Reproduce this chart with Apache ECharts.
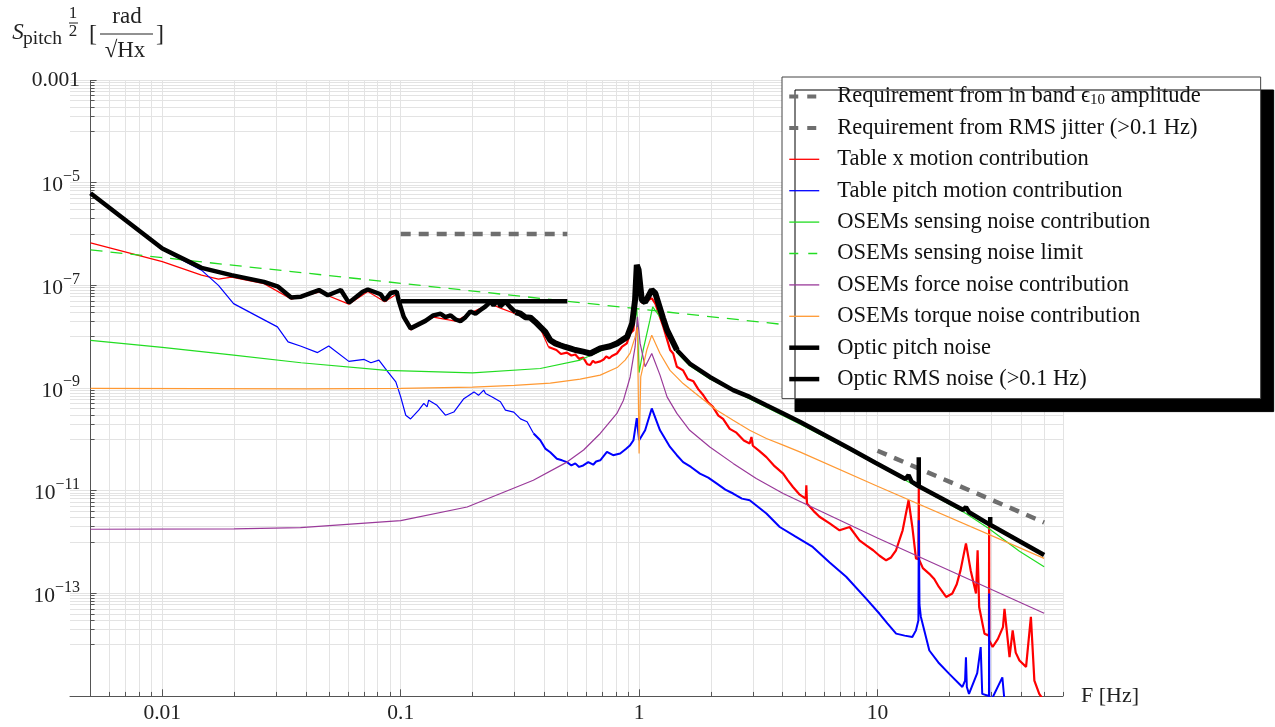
<!DOCTYPE html>
<html>
<head>
<meta charset="utf-8">
<title>Optic pitch noise</title>
<script src="https://cdn.jsdelivr.net/npm/echarts@6/dist/echarts.min.js"></script>
<style>
    html, body { margin: 0; padding: 0; background: #fff; }
    #main { width: 1275px; height: 727px; }
</style>
</head>
<body>
<div id="main"></div>
<script>
// frequency [Hz], amplitude [rad/sqrt(Hz)]
const reqBand = [[10, 6.0e-11], [50, 2.4e-12]];
const reqRms = [[0.1, 1.0e-6], [0.5, 1.0e-6]];
const rmsNoise = [[0.1, 4.9e-8], [0.5, 4.9e-8]];
const senseLimit = [[0.005, 4.9e-7], [50, 4.9e-9]];

const tableX = [
    [0.005, 6.7e-7], [0.01, 2.9e-7], [0.0146, 1.58e-7], [0.0172, 1.32e-7], [0.0195, 1.45e-7],
    [0.0267, 1.08e-7], [0.0347, 5.4e-8], [0.0454, 7.4e-8], [0.0606, 4.3e-8], [0.0728, 7.6e-8],
    [0.0857, 4.8e-8], [0.0962, 6.8e-8], [0.103, 2.2e-8], [0.110, 1.35e-8], [0.137, 2.4e-8],
    [0.170, 2.0e-8], [0.196, 2.9e-8], [0.238, 4.4e-8], [0.262, 3.6e-8], [0.303, 2.8e-8],
    [0.35, 2.2e-8], [0.385, 1.45e-8], [0.417, 6.3e-9], [0.45, 5.5e-9], [0.47, 4.6e-9],
    [0.498, 4.9e-9], [0.52, 4.3e-9], [0.54, 4.5e-9], [0.56, 3.7e-9], [0.583, 3.9e-9],
    [0.606, 2.9e-9], [0.624, 2.8e-9], [0.64, 3.4e-9], [0.654, 3.1e-9], [0.687, 3.3e-9],
    [0.71, 3.6e-9], [0.728, 4.1e-9], [0.75, 3.8e-9], [0.769, 4.2e-9], [0.807, 4.7e-9],
    [0.846, 6.3e-9], [0.888, 7.4e-9], [0.917, 1.15e-8], [0.947, 1.34e-8], [0.978, 1.4e-7],
    [1.03, 4.5e-8], [1.13, 5.6e-8], [1.17, 4.4e-8], [1.264, 1.55e-8], [1.35, 5.5e-9],
    [1.39, 4.7e-9], [1.44, 2.6e-9], [1.53, 2.2e-9], [1.6, 1.5e-9], [1.69, 1.35e-9],
    [1.77, 0.95e-9], [1.86, 7.2e-10], [1.95, 5.2e-10], [2.04, 4.3e-10], [2.15, 2.9e-10],
    [2.25, 2.5e-10], [2.4, 1.6e-10], [2.56, 1.35e-10], [2.75, 9.5e-11], [2.91, 8.3e-11],
    [2.96, 1.11e-10], [3.0, 7.5e-11], [3.2, 5.9e-11], [3.42, 4.5e-11], [3.7, 3.0e-11],
    [4.02, 2.15e-11], [4.2, 1.6e-11], [4.42, 1.18e-11], [4.7, 8.5e-12], [5.0, 7.0e-12],
    [5.03, 1.27e-11], [5.06, 5.6e-12], [5.4, 4.0e-12], [5.71, 3.1e-12], [6.3, 2.3e-12],
    [6.93, 1.69e-12], [7.64, 1.96e-12], [8.4, 1.08e-12], [9.0, 8.5e-13], [9.59, 6.9e-13],
    [10.2, 5.4e-13], [10.87, 4.4e-13], [11.4, 5.0e-13], [11.96, 6.9e-13], [12.75, 1.69e-12],
    [13.5, 6.5e-12], [14.0, 1.96e-12], [14.5, 4.8e-13], [14.85, 4.6e-13], [14.9, 1.11e-11],
    [14.95, 4.5e-13], [15.5, 3.1e-13], [16.5, 2.4e-13], [17.3, 1.9e-13], [18.1, 1.33e-13],
    [19.4, 8.5e-14], [20.6, 9.9e-14], [21.5, 1.5e-13], [22.3, 2.8e-13], [23.5, 9.4e-13],
    [24.6, 2.8e-13], [25.9, 9.9e-14], [26.3, 6.9e-13], [26.7, 5.4e-14], [28.1, 1.64e-14],
    [29.35, 1.5e-14], [29.4, 3.07e-12], [29.45, 1.2e-14], [30.4, 9.0e-15], [32.0, 1.3e-14],
    [33.6, 2.2e-14], [34.1, 5.0e-14], [35.8, 5.7e-15], [36.9, 1.9e-14], [38.0, 7.0e-15],
    [39.4, 4.9e-15], [42.0, 3.7e-15], [44.0, 3.5e-14], [45.5, 2.0e-15], [47.7, 1.1e-15],
    [50, 8e-16]
];

const tablePitch = [
    [0.005, 6.2e-6], [0.01, 5.0e-7], [0.0146, 1.98e-7], [0.0172, 1.0e-7], [0.0199, 4.4e-8],
    [0.0259, 2.3e-8], [0.0304, 1.55e-8], [0.0337, 7.9e-9], [0.0382, 6.5e-9], [0.0448, 4.9e-9],
    [0.0499, 6.6e-9], [0.0606, 3.3e-9], [0.0703, 3.6e-9], [0.075, 3.1e-9], [0.081, 3.5e-9],
    [0.088, 2.1e-9], [0.0954, 1.32e-9], [0.1, 6.7e-10], [0.105, 2.95e-10], [0.110, 2.5e-10],
    [0.119, 3.7e-10], [0.125, 5.0e-10], [0.129, 4.3e-10], [0.131, 5.8e-10], [0.142, 4.6e-10],
    [0.154, 2.95e-10], [0.167, 3.4e-10], [0.184, 6.2e-10], [0.203, 8.4e-10], [0.212, 7.2e-10],
    [0.223, 9.1e-10], [0.227, 7.8e-10], [0.242, 6.7e-10], [0.262, 5.4e-10], [0.275, 3.7e-10],
    [0.298, 3.4e-10], [0.318, 2.5e-10], [0.339, 2.2e-10], [0.361, 1.3e-10], [0.385, 9.6e-11],
    [0.404, 6.6e-11], [0.424, 5.6e-11], [0.452, 4.2e-11], [0.475, 3.9e-11], [0.498, 3.6e-11],
    [0.52, 3.1e-11], [0.54, 3.4e-11], [0.56, 2.9e-11], [0.583, 3.1e-11], [0.612, 3.6e-11],
    [0.642, 3.2e-11], [0.66, 3.7e-11], [0.687, 3.9e-11], [0.733, 5.7e-11], [0.778, 4.9e-11],
    [0.833, 5.3e-11], [0.88, 6.5e-11], [0.917, 7.7e-11], [0.947, 9.6e-11], [0.978, 2.6e-10],
    [1.0, 9.6e-11], [1.06, 1.5e-10], [1.13, 4.0e-10], [1.224, 1.5e-10], [1.348, 7.1e-11],
    [1.44, 4.9e-11], [1.53, 3.6e-11], [1.65, 2.9e-11], [1.80, 2.15e-11], [1.95, 1.8e-11],
    [2.12, 1.37e-11], [2.3, 1.05e-11], [2.48, 8.8e-12], [2.7, 7.0e-12], [2.91, 6.5e-12],
    [3.42, 3.6e-12], [3.89, 1.96e-12], [4.5, 1.3e-12], [5.35, 8.0e-13], [6.3, 4.0e-13],
    [7.39, 2.1e-13], [8.96, 7.9e-14], [10.2, 4.0e-14], [11.0, 2.6e-14], [11.97, 1.64e-14],
    [13.0, 1.5e-14], [14.0, 1.41e-14], [14.5, 1.9e-14], [14.85, 3.0e-14], [14.9, 2.65e-12],
    [15.0, 6.0e-14], [15.2, 3.5e-14], [16.5, 7.7e-15], [18.0, 4.5e-15], [20.0, 2.7e-15],
    [22.7, 1.5e-15], [23.3, 2.0e-15], [23.5, 5.7e-15], [23.7, 1.5e-15], [24.2, 1.1e-15],
    [26.2, 2.8e-15], [27.1, 9.0e-15], [27.5, 1.1e-15], [29.35, 1.0e-15], [29.4, 9.9e-14],
    [29.45, 1.0e-15], [29.9, 8e-16], [33.4, 2.3e-15], [34.1, 8e-16], [52, 5e-16]
];

const senseNoise = [
    [0.005, 8.5e-9], [0.01, 6.2e-9], [0.0195, 4.4e-9], [0.0382, 3.1e-9], [0.087, 2.2e-9],
    [0.2, 1.97e-9], [0.385, 2.4e-9], [0.566, 3.5e-9], [0.756, 6.3e-9], [0.917, 1.15e-8],
    [0.962, 2.3e-8], [0.978, 3.5e-8], [1.0, 2.0e-9], [1.04, 5.5e-9], [1.11, 2.1e-8],
    [1.14, 3.8e-8], [1.26, 2.0e-8], [1.44, 4.9e-9], [1.63, 2.7e-9], [1.98, 1.5e-9],
    [2.91, 6.1e-10], [4.72, 2.0e-10], [7.64, 6.2e-11], [14.9, 1.15e-11], [23.5, 3.6e-12],
    [29.4, 1.82e-12], [39.4, 6.6e-13], [50, 3.3e-13]
];

const forceNoise = [
    [0.005, 1.77e-12], [0.02, 1.8e-12], [0.038, 1.9e-12], [0.1, 2.6e-12], [0.19, 4.8e-12],
    [0.36, 1.6e-11], [0.498, 3.6e-11], [0.585, 6.2e-11], [0.687, 1.3e-10], [0.807, 3.2e-10],
    [0.86, 5.8e-10], [0.917, 1.64e-9], [0.962, 6.3e-9], [0.984, 2.43e-8], [1.01, 7.4e-9],
    [1.06, 2.6e-9], [1.13, 4.7e-9], [1.224, 1.78e-9], [1.31, 6.7e-10], [1.44, 3.2e-10],
    [1.63, 1.5e-10], [1.98, 7.1e-11], [2.48, 3.4e-11], [3.10, 1.72e-11], [4.02, 8.8e-12],
    [10, 1.2e-12], [50, 4.1e-14]
];

const torqueNoise = [
    [0.005, 9.8e-10], [0.04, 9.6e-10], [0.1, 9.8e-10], [0.2, 1.04e-9], [0.3, 1.12e-9],
    [0.424, 1.24e-9], [0.566, 1.49e-9], [0.687, 1.78e-9], [0.809, 2.5e-9], [0.874, 3.5e-9],
    [0.917, 4.8e-9], [0.962, 9.8e-9], [0.984, 1.53e-8], [1.0, 5.3e-11], [1.016, 1.64e-9],
    [1.077, 5.5e-9], [1.13, 1.07e-8], [1.148, 1.15e-8], [1.224, 4.7e-9], [1.348, 2.2e-9],
    [1.53, 1.22e-9], [1.80, 6.7e-10], [2.12, 3.7e-10], [2.48, 2.35e-10], [2.91, 1.5e-10],
    [3.42, 1.04e-10], [4.02, 7.7e-11], [4.72, 5.7e-11], [10, 1.22e-11], [50, 4.8e-13]
];

const pitchNoise = [
    [0.005, 6.2e-6], [0.01, 5.2e-7], [0.0146, 2.19e-7], [0.0195, 1.58e-7], [0.0267, 1.17e-7],
    [0.0306, 9.4e-8], [0.0347, 5.8e-8], [0.0382, 6.0e-8], [0.0454, 8.1e-8], [0.0495, 6.4e-8],
    [0.0561, 8.1e-8], [0.0606, 4.6e-8], [0.0693, 7.5e-8], [0.0728, 8.3e-8], [0.0824, 6.7e-8],
    [0.0857, 5.1e-8], [0.0908, 7.1e-8], [0.0962, 7.5e-8], [0.098, 5.1e-8], [0.103, 2.43e-8],
    [0.110, 1.45e-8], [0.127, 2.03e-8], [0.137, 2.6e-8], [0.147, 2.8e-8], [0.154, 2.4e-8],
    [0.162, 2.6e-8], [0.170, 2.16e-8], [0.178, 2.0e-8], [0.187, 2.4e-8], [0.196, 3.1e-8],
    [0.206, 2.8e-8], [0.216, 3.3e-8], [0.227, 3.9e-8], [0.238, 4.8e-8], [0.245, 4.1e-8],
    [0.255, 5.1e-8], [0.262, 3.9e-8], [0.275, 4.8e-8], [0.289, 3.7e-8], [0.303, 3.0e-8],
    [0.318, 2.8e-8], [0.333, 2.4e-8], [0.350, 2.35e-8], [0.367, 1.94e-8], [0.385, 1.55e-8],
    [0.404, 1.24e-8], [0.424, 8.5e-9], [0.445, 7.4e-9], [0.467, 6.8e-9], [0.490, 6.3e-9],
    [0.514, 5.9e-9], [0.540, 5.5e-9], [0.583, 5.1e-9], [0.624, 4.7e-9], [0.687, 5.9e-9],
    [0.756, 6.5e-9], [0.809, 7.4e-9], [0.891, 9.9e-9], [0.935, 1.8e-8], [0.962, 5.2e-8],
    [0.978, 2.5e-7], [0.995, 2.0e-7], [1.026, 5.2e-8], [1.06, 4.7e-8], [1.13, 8.1e-8],
    [1.17, 7.0e-8], [1.26, 2.3e-8], [1.31, 1.34e-8], [1.44, 5.5e-9], [1.63, 3.0e-9],
    [1.98, 1.64e-9], [2.48, 9.1e-10], [2.91, 6.7e-10], [3.42, 4.6e-10], [4.02, 3.2e-10],
    [4.72, 2.2e-10], [7.64, 6.6e-11], [9.8, 3.5e-11], [13.1, 1.69e-11], [13.5, 2.0e-11],
    [13.9, 1.5e-11], [14.9, 1.22e-11], [14.9, 4.5e-11], [14.9, 1.22e-11], [22.9, 4.2e-12],
    [23.5, 4.8e-12], [24.2, 3.8e-12], [29.7, 2.16e-12], [29.7, 3.07e-12], [29.7, 2.16e-12],
    [50, 5.6e-13]
];

// gridlines and tick labels of the log axes
const mant = [1, 2, 3, 4, 5, 6, 7, 8, 9];
const gridX = [];
[-3, -2, -1, 0, 1].forEach(function (d) {
    mant.forEach(function (m) {
        const v = +(m * Math.pow(10, d)).toPrecision(3);
        if (v >= 0.005 && v <= 60) gridX.push(v);
    });
});
const gridY = [];
[-3, -5, -7, -9, -11, -13].forEach(function (d) {
    gridY.push(Math.pow(10, d));
    mant.forEach(function (m) { gridY.push(m * Math.pow(10, d - 1)); });
});
const xLabels = [0.01, 0.1, 1, 10];

const FONT = '"Liberation Serif", "Times New Roman", serif';
const X_MIN = 0.0041, X_MAX = 60, Y_MIN = 1e-15, Y_MAX = 1e-3;

function lineSeries(name, data, color, width, type) {
    return {
        name: name, type: 'line', data: data, z: 10,
        showSymbol: false, symbol: 'none', silent: true, animation: false,
        lineStyle: { color: color, width: width, type: type || 'solid' },
        itemStyle: { color: color },
        emphasis: { disabled: true }
    };
}
function upTo(data, f) { return data.filter(function (p) { return p[0] <= f; }); }
function from(data, f) { return data.filter(function (p) { return p[0] >= f; }); }

const names = [
    'Requirement from in band ϵ10 amplitude',
    'Requirement from RMS jitter (>0.1 Hz)',
    'Table x motion contribution',
    'Table pitch motion contribution',
    'OSEMs sensing noise contribution',
    'OSEMs sensing noise limit',
    'OSEMs force noise contribution',
    'OSEMs torque noise contribution',
    'Optic pitch noise',
    'Optic RMS noise (>0.1 Hz)'
];
const GRAY = '#6e6e6e', RED = '#ff0000', BLUE = '#0000ff', GREEN = '#22dd22',
    PURPLE = '#9a3a9a', ORANGE = '#ff9933';

let myChart = echarts.init(document.getElementById('main'));

const gridLines = [];
gridX.forEach(function (f) { gridLines.push([{ coord: [f, Y_MIN] }, { coord: [f, Y_MAX] }]); });
gridY.forEach(function (v) { gridLines.push([{ coord: [X_MIN, v] }, { coord: [X_MAX, v] }]); });

const axisTicks = [];
gridX.forEach(function (f) {
    const big = xLabels.indexOf(f) >= 0;
    axisTicks.push([{ coord: [f, Y_MIN] }, { coord: [f, big ? 1.35e-15 : 1.2e-15] }]);
});
gridY.forEach(function (v) {
    const e = Math.log10(v);
    const big = Math.abs(e - Math.round(e)) < 1e-6 && Math.round(e) % 2 !== 0;
    axisTicks.push([{ coord: [0.005, v] }, { coord: [big ? 0.0053 : 0.0052, v] }]);
});
axisTicks.push([{ coord: [0.005, Y_MIN] }, { coord: [0.005, Y_MAX] }]);

function markLines(data, color) {
    return {
        silent: true, animation: false, symbol: ['none', 'none'],
        label: { show: false }, emphasis: { disabled: true },
        lineStyle: { color: color, width: 1, type: 'solid' },
        data: data
    };
}

const legendLine = function (name, color, width, type) {
    return {
        name: name,
        itemStyle: { color: 'rgba(0,0,0,0)', borderColor: 'rgba(0,0,0,0)', borderWidth: 0, opacity: 0 },
        lineStyle: { color: color, width: width, type: type || 'solid' }
    };
};

myChart.setOption({
    animation: false,
    backgroundColor: '#fff',
    grid: { left: 70, top: 80, right: 212, bottom: 31, containLabel: false },
    xAxis: {
        type: 'log', min: X_MIN, max: X_MAX, z: 6,
        name: 'F [Hz]', nameLocation: 'end', nameGap: 18,
        nameTextStyle: { fontFamily: FONT, fontSize: 22, color: '#222', verticalAlign: 'middle', padding: [0, 0, 6, 0] },
        axisLine: { lineStyle: { color: '#555', width: 1 } },
        axisTick: { show: false },
        splitLine: { show: false },
        axisLabel: {
            showMinLabel: false, showMaxLabel: false, margin: 6,
            fontFamily: FONT, fontSize: 21.5, color: '#222',
            formatter: function (v) {
                const r = +(+v).toPrecision(6);
                return xLabels.indexOf(r) >= 0 ? String(r) : '';
            }
        }
    },
    yAxis: {
        type: 'log', min: Y_MIN, max: Y_MAX, interval: 2, z: 6,
        axisLine: { show: false },
        axisTick: { show: false },
        splitLine: { show: false },
        axisLabel: {
            showMinLabel: false, margin: -10,
            fontFamily: FONT, color: '#222',
            formatter: function (v) {
                const e = Math.round(Math.log10(v));
                if (e === -3) return '{n|0.001}';
                return '{b|10}{sup|\u2212' + (-e) + '}';
            },
            rich: {
                n: { fontFamily: FONT, fontSize: 21.5, color: '#222' },
                b: { fontFamily: FONT, fontSize: 21.5, color: '#222', lineHeight: 28, verticalAlign: 'bottom' },
                sup: { fontFamily: FONT, fontSize: 16, color: '#222', lineHeight: 16, verticalAlign: 'top' }
            }
        }
    },
    legend: {
        orient: 'vertical', left: 782, top: 77, z: 30,
        padding: [8, 60, 8, 5], itemGap: 8.4, itemWidth: 30, itemHeight: 20,
        backgroundColor: '#fff', borderColor: '#444', borderWidth: 1,
        shadowColor: '#000', shadowBlur: 0, shadowOffsetX: 13, shadowOffsetY: 13,
        selectedMode: false,
        textStyle: {
            fontFamily: FONT, fontSize: 22.5, color: '#111', lineHeight: 22,
            rich: {
                gap: { width: 13 },
                sub: { fontFamily: FONT, fontSize: 15, color: '#111', lineHeight: 15, verticalAlign: 'bottom' }
            }
        },
        formatter: function (name) {
            return '{gap|}' + name.replace('ϵ10', 'ϵ{sub|10}');
        },
        data: [
            legendLine(names[0], GRAY, 4, [9, 9]),
            legendLine(names[1], GRAY, 4, [9, 9]),
            legendLine(names[2], RED, 1.3),
            legendLine(names[3], BLUE, 1.3),
            legendLine(names[4], GREEN, 1.3),
            legendLine(names[5], GREEN, 1.3, [9, 10]),
            legendLine(names[6], PURPLE, 1.3),
            legendLine(names[7], ORANGE, 1.3),
            legendLine(names[8], '#000', 4.5),
            legendLine(names[9], '#000', 4.5)
        ]
    },
    graphic: [
        { type: 'text', x: 18, y: 33, style: { text: 'S', font: 'italic 23px ' + FONT, fill: '#222', textAlign: 'center', textVerticalAlign: 'middle' } },
        { type: 'text', x: 23, y: 39, style: { text: 'pitch', font: '19.5px ' + FONT, fill: '#222', textAlign: 'left', textVerticalAlign: 'middle' } },
        { type: 'text', x: 73, y: 14, style: { text: '1', font: '17px ' + FONT, fill: '#222', textAlign: 'center', textVerticalAlign: 'middle' } },
        { type: 'line', shape: { x1: 69, y1: 23, x2: 78, y2: 23 }, style: { stroke: '#222', lineWidth: 1 } },
        { type: 'text', x: 73, y: 32, style: { text: '2', font: '17px ' + FONT, fill: '#222', textAlign: 'center', textVerticalAlign: 'middle' } },
        { type: 'text', x: 93, y: 35, style: { text: '[', font: '24px ' + FONT, fill: '#222', textAlign: 'center', textVerticalAlign: 'middle' } },
        { type: 'text', x: 127, y: 17, style: { text: 'rad', font: '23px ' + FONT, fill: '#222', textAlign: 'center', textVerticalAlign: 'middle' } },
        { type: 'line', shape: { x1: 100, y1: 34, x2: 153, y2: 34 }, style: { stroke: '#222', lineWidth: 1 } },
        { type: 'text', x: 125, y: 51, style: { text: '\u221AHx', font: '23px ' + FONT, fill: '#222', textAlign: 'center', textVerticalAlign: 'middle' } },
        { type: 'text', x: 160, y: 35, style: { text: ']', font: '24px ' + FONT, fill: '#222', textAlign: 'center', textVerticalAlign: 'middle' } }
    ],
    series: [
        { name: 'gridlines', type: 'line', data: [], z: 1, silent: true, animation: false, markLine: markLines(gridLines, '#e3e3e3') },
        { name: 'axes', type: 'line', data: [], z: 2, silent: true, animation: false, markLine: markLines(axisTicks, '#555') },
        lineSeries(names[0], reqBand, GRAY, 4.5, [10, 8]),
        lineSeries(names[1], reqRms, GRAY, 4.5, [10, 8]),
        lineSeries(names[2], upTo(tableX, 0.417), RED, 1.2),
        lineSeries(names[2], from(tableX, 0.417), RED, 2.2),
        lineSeries(names[3], upTo(tablePitch, 0.361), BLUE, 1.2),
        lineSeries(names[3], from(tablePitch, 0.361), BLUE, 2),
        lineSeries(names[4], senseNoise, GREEN, 1.2),
        lineSeries(names[5], senseLimit, GREEN, 1.3, [12, 8]),
        lineSeries(names[6], forceNoise, PURPLE, 1.2),
        lineSeries(names[7], torqueNoise, ORANGE, 1.2),
        lineSeries(names[8], upTo(pitchNoise, 0.303), '#000', 4.5),
        lineSeries(names[8], from(pitchNoise, 0.303).filter(function (p) { return p[0] <= 1.44; }), '#000', 6),
        lineSeries(names[8], from(pitchNoise, 1.44), '#000', 4.5),
        lineSeries(names[9], rmsNoise, '#000', 4.5)
    ]
});
window.onresize = myChart.resize;
</script>
</body>
</html>
